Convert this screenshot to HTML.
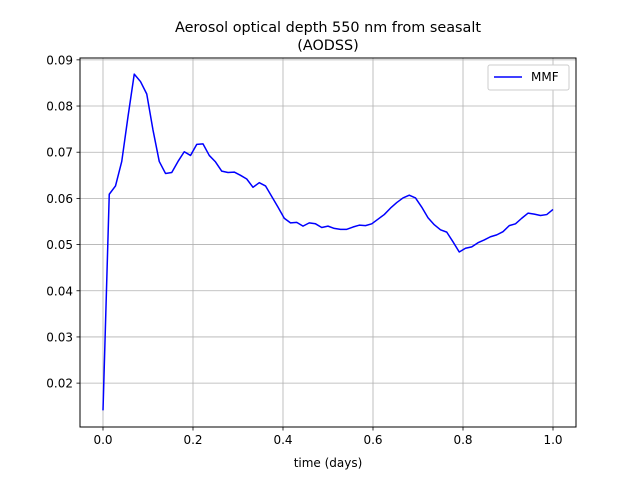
<!DOCTYPE html>
<html><head><meta charset="utf-8"><style>
body{margin:0;background:#fff}
svg text{font-family:"DejaVu Sans","Liberation Sans",sans-serif;fill:#000}
</style></head><body>
<svg id="c" width="640" height="480" xmlns="http://www.w3.org/2000/svg">
<rect width="640" height="480" fill="#fff"/>
<text x="328" y="32" font-size="14.4" text-anchor="middle">Aerosol optical depth 550 nm from seasalt</text>
<text x="328" y="50" font-size="14.4" text-anchor="middle">(AODSS)</text>
<g id="grid"></g>
<g id="ticks"></g>
<g id="series"></g>
<rect x="80" y="58" width="496" height="369" fill="none" stroke="#000" stroke-width="1"/>
<text x="328" y="467" font-size="12" text-anchor="middle">time (days)</text>
<g>
<rect x="488" y="65" width="81" height="25" rx="2" fill="#fff" stroke="#ccc"/>
<line x1="494" y1="77" x2="522" y2="77" stroke="#0000ff" stroke-width="1.5"/>
<text x="531" y="81" font-size="12">MMF</text>
</g>
</svg>
<script>
const values=[0.0141,0.0609,0.0627,0.0680,0.0777,0.0869,0.0853,0.0826,0.0748,0.0680,0.0654,0.0656,0.0680,0.0701,0.0693,0.0717,0.0718,0.0693,0.0679,0.0659,0.0656,0.0657,0.0650,0.0642,0.0624,0.0634,0.0627,0.0604,0.0581,0.0557,0.0547,0.0548,0.0540,0.0547,0.0545,0.0537,0.0540,0.0535,0.0533,0.0533,0.0538,0.0542,0.0541,0.0545,0.0555,0.0565,0.0579,0.0591,0.0601,0.0607,0.0601,0.0581,0.0558,0.0543,0.0532,0.0527,0.0506,0.0484,0.0492,0.0495,0.0504,0.0510,0.0517,0.0521,0.0528,0.0541,0.0545,0.0557,0.0568,0.0566,0.0563,0.0565,0.0576];
const xTicks=[0.0,0.2,0.4,0.6,0.8,1.0];
const xTickLabels=["0.0","0.2","0.4","0.6","0.8","1.0"];
const yTicks=[0.02,0.03,0.04,0.05,0.06,0.07,0.08,0.09];
const yTickLabels=["0.02","0.03","0.04","0.05","0.06","0.07","0.08","0.09"];
const times=values.map((v,i)=>i/(values.length-1));
const L=80,R=576,T=58,B=427;
const xMin=-0.0511,xMax=1.0511,yMin=0.0105,yMax=0.0904;
const X=v=>L+(v-xMin)/(xMax-xMin)*(R-L);
const Y=v=>B-(v-yMin)/(yMax-yMin)*(B-T);
const NS="http://www.w3.org/2000/svg";
const grid=document.getElementById('grid'),ticks=document.getElementById('ticks'),series=document.getElementById('series');
function mk(t,a,p){const e=document.createElementNS(NS,t);for(const k in a)e.setAttribute(k,a[k]);p.appendChild(e);return e;}
xTicks.forEach((t,i)=>{const x=X(t);
const g=mk('line',{x1:x,x2:x,y1:T,y2:B,stroke:'#b0b0b0','stroke-width':0.8},grid);


const k=mk('line',{x1:x,x2:x,y1:B,y2:B+3.5,stroke:'#000','stroke-width':0.8},ticks);


const l=mk('text',{x:x,y:B+17,'font-size':12,'text-anchor':'middle'},ticks);l.textContent=xTickLabels[i];

});
yTicks.forEach((t,i)=>{const y=Y(t);
const g=mk('line',{x1:L,x2:R,y1:y,y2:y,stroke:'#b0b0b0','stroke-width':0.8},grid);


const k=mk('line',{x1:L-3.5,x2:L,y1:y,y2:y,stroke:'#000','stroke-width':0.8},ticks);


const l=mk('text',{x:L-7,y:y+4.5,'font-size':12,'text-anchor':'end'},ticks);l.textContent=yTickLabels[i];

});
const line=mk('polyline',{points:values.map((v,i)=>X(times[i]).toFixed(2)+','+Y(v).toFixed(2)).join(' '),fill:'none',stroke:'#0000ff','stroke-width':1.5,'stroke-linejoin':'round'},series);


</script>
</body></html>
